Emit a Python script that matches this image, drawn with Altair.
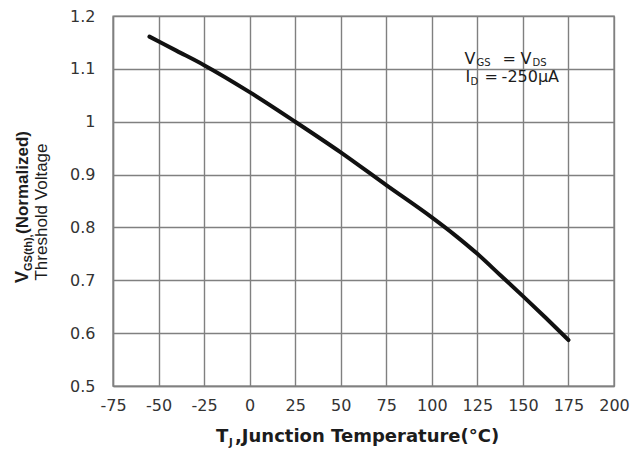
import altair as alt
import pandas as pd

# ---- data ----
TEMP_C = [-55, -40, -25, 0, 25, 50, 75, 100, 112.5, 125, 137.5, 150, 162.5, 175]
VTH_NORM = [1.161, 1.134, 1.107, 1.056, 1.000, 0.942, 0.880, 0.819, 0.786, 0.750, 0.710, 0.670, 0.629, 0.587]
X_TICKS = [-75, -50, -25, 0, 25, 50, 75, 100, 125, 150, 175, 200]
Y_TICKS = [0.5, 0.6, 0.7, 0.8, 0.9, 1.0, 1.1, 1.2]

ANNOT_T = [118]            # annotation anchor (temperature)
ANNOT_V = [1.110, 1.076]   # annotation baselines (normalized Vth)

W, H = 501, 370
GRID = "#808080"
INK = "#1c1c1c"
LBL = "#333333"

xs = alt.Scale(domain=[-75, 200], nice=False, zero=False)
ys = alt.Scale(domain=[0.5, 1.2], nice=False, zero=False)

df = pd.DataFrame({"T": TEMP_C, "V": VTH_NORM})

common_axis = dict(
    title=None, grid=True, ticks=False, tickSize=0,
    labelFont="DejaVu Sans", labelFontSize=16, labelColor=LBL,
    domainColor=GRID, domainWidth=1.4, gridColor=GRID, gridWidth=1.4, gridOpacity=1,
    labelFlush=False, labelExpr="datum.value + ''",
)

line = alt.Chart(df).mark_line(
    color="#111111", strokeWidth=4, interpolate="monotone", strokeCap="round"
).encode(
    x=alt.X("T:Q", scale=xs, axis=alt.Axis(values=X_TICKS, labelPadding=11, **common_axis)),
    y=alt.Y("V:Q", scale=ys, axis=alt.Axis(values=Y_TICKS, labelPadding=18, **common_axis)),
)


def label(txt, x, y, size, weight="normal", angle=0, align="left",
          font="Liberation Sans"):
    return alt.Chart(pd.DataFrame({"s": [txt]})).mark_text(
        font=font, fontSize=size, fontWeight=weight, angle=angle, align=align,
        baseline="alphabetic", color=INK
    ).encode(x=alt.value(x), y=alt.value(y), text="s:N")


def anno(txt, row, dx, size=16, dy=0):
    d = pd.DataFrame({"T": ANNOT_T, "V": [ANNOT_V[row]], "s": [txt]})
    return alt.Chart(d).mark_text(
        font="DejaVu Sans", fontSize=size, align="left", baseline="alphabetic",
        dx=dx, dy=dy, color=INK
    ).encode(x=alt.X("T:Q", scale=xs), y=alt.Y("V:Q", scale=ys), text="s:N")


layers = [
    line,
    # annotation: V_GS = V_DS / I_D = -250µA
    anno("V", 0, 0), anno("GS", 0, 12, 10, 2), anno("=", 0, 38),
    anno("V", 0, 56), anno("DS", 0, 68, 10, 2),
    anno("I", 1, 1), anno("D", 1, 6, 10, 3), anno("=", 1, 20),
    anno("-250µA", 1, 37),
    # x axis title: T_J,Junction Temperature(°C)
    label("T", 103, 426, 18, "bold", font="DejaVu Sans"),
    label("J", 116, 430, 10, "bold", font="DejaVu Sans"),
    label(",Junction Temperature(°C)", 122, 426, 18, "bold", font="DejaVu Sans"),
    # y axis title: V_GS(th),(Normalized) / Threshold Voltage
    label("V", -85, 267, 18, "bold", angle=270),
    label("GS(th),", -81, 255, 11, "bold", angle=270),
    label("(Normalized)", -85, 218, 17, "bold", angle=270),
    label("Threshold Voltage", -66, 196, 17, "normal", angle=270, align="center"),
]

chart = alt.layer(*layers).properties(
    width=W, height=H,
    autosize=alt.AutoSizeParams(type="none"),
    padding={"left": 105, "top": 8, "right": 20, "bottom": 64},
    background="white",
).configure_view(stroke=GRID, strokeWidth=1.4)

chart.save("out.html", embed_options={"renderer": "svg", "actions": False})
